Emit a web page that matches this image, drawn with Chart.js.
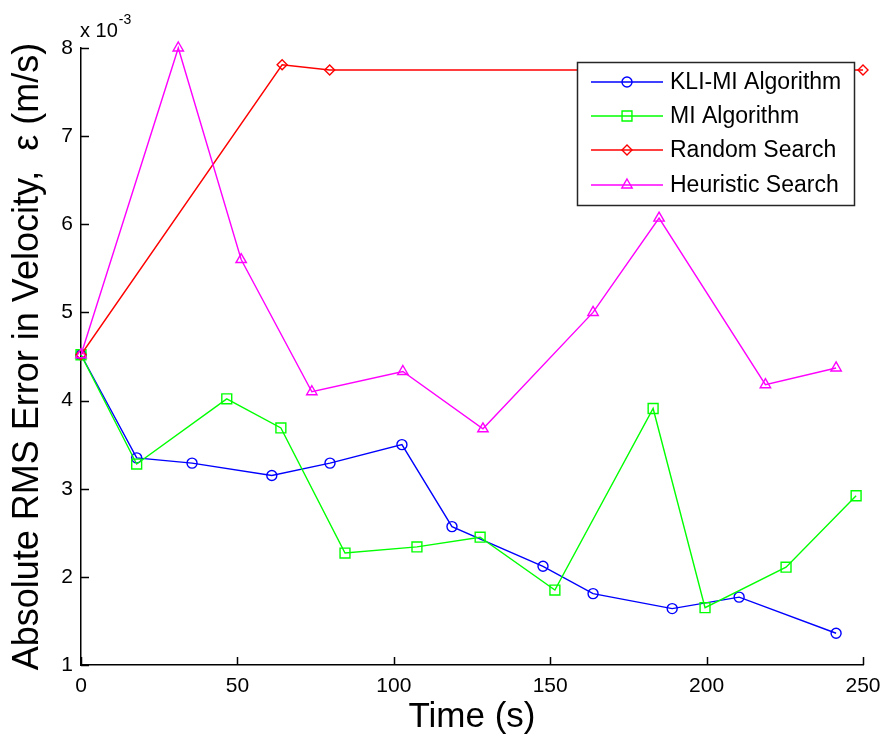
<!DOCTYPE html>
<html>
<head>
<meta charset="utf-8">
<title>Absolute RMS Error in Velocity</title>
<script src="https://cdn.jsdelivr.net/npm/chart.js@4"></script>
<style>
  html, body { margin: 0; padding: 0; background: #fff; }
  #chart { display: block; }
</style>
</head>
<body>
<canvas id="chart" width="884" height="743"></canvas>
<script>
// Erro RMS absoluto da velocidade (valores em unidades de 1e-3 m/s)
const timeKli = [0, 17.8, 35.5, 61, 79.6, 102.6, 118.6, 147.7, 163.7, 189, 210.4, 241.4];
const errKli  = [4.52, 3.35, 3.29, 3.15, 3.29, 3.50, 2.57, 2.12, 1.81, 1.64, 1.77, 1.36];

const timeMi = [0, 17.8, 46.6, 63.9, 84.4, 107.4, 127.6, 151.5, 182.9, 199.5, 225.4, 247.8];
const errMi  = [4.52, 3.28, 4.02, 3.69, 2.27, 2.34, 2.45, 1.85, 3.91, 1.65, 2.11, 2.92];

const timeRandom = [0, 64.3, 79.5, 250];
const errRandom  = [4.52, 7.81, 7.75, 7.75];

const timeHeur = [0, 31.1, 51.2, 73.8, 102.9, 128.5, 163.7, 184.8, 218.8, 241.4];
const errHeur  = [4.52, 8.0, 5.6, 4.10, 4.33, 3.68, 5.0, 6.07, 4.18, 4.37];

const seriesNames = ['KLI-MI Algorithm', 'MI Algorithm', 'Random Search', 'Heuristic Search'];
const xTicks = [0, 50, 100, 150, 200, 250];
const yTicks = [1, 2, 3, 4, 5, 6, 7, 8];

const FONT = 'Arial, "Liberation Sans", sans-serif';

function toPoints(xs, ys) {
    return xs.map((x, i) => ({ x: x, y: ys[i] }));
}

const seriesStyle = [
    { color: '#0000ff', pointStyle: 'circle', radius: 5 },
    { color: '#00ff00', pointStyle: 'rect', radius: 7 },
    { color: '#ff0000', pointStyle: 'rectRot', radius: 5 },
    { color: '#ff00ff', pointStyle: 'triangle', radius: 6 }
];

function makeDataset(i, xs, ys, order) {
    const s = seriesStyle[i];
    return {
        label: seriesNames[i],
        data: toPoints(xs, ys),
        borderColor: s.color,
        borderWidth: 1.4,
        pointStyle: s.pointStyle,
        pointRadius: s.radius,
        pointHoverRadius: s.radius,
        pointBorderColor: s.color,
        pointBackgroundColor: 'rgba(0,0,0,0)',
        pointBorderWidth: 1.4,
        tension: 0,
        fill: false,
        clip: false,
        order: order
    };
}

// eixos com marcas para dentro, legenda em caixa e o fator "x 10^-3"
const matlabAxes = {
    id: 'matlabAxes',
    afterDraw(chart) {
        const ctx = chart.ctx;
        const xs = chart.scales.x;
        const ys = chart.scales.y;
        const area = chart.chartArea;

        ctx.save();
        ctx.strokeStyle = '#000';
        ctx.lineWidth = 1.5;
        ctx.beginPath();
        xTicks.forEach(v => {
            const px = Math.round(xs.getPixelForValue(v)) + 0.5;
            ctx.moveTo(px, area.bottom);
            ctx.lineTo(px, area.bottom - 8);
        });
        yTicks.forEach(v => {
            const py = Math.round(ys.getPixelForValue(v)) + 0.5;
            ctx.moveTo(area.left, py);
            ctx.lineTo(area.left + 8, py);
        });
        ctx.stroke();

        // fator de escala
        ctx.fillStyle = '#000';
        ctx.textAlign = 'left';
        ctx.textBaseline = 'alphabetic';
        ctx.font = '20px ' + FONT;
        ctx.fillText('x 10', area.left - 1, 37);
        const w = ctx.measureText('x 10').width;
        ctx.font = '14px ' + FONT;
        ctx.fillText('-3', area.left - 1 + w + 1, 24);

        // legenda
        const box = { left: 577.5, top: 62.5, right: 854.5, bottom: 205.5 };
        ctx.fillStyle = '#fff';
        ctx.fillRect(box.left, box.top, box.right - box.left, box.bottom - box.top);
        ctx.strokeStyle = '#262626';
        ctx.lineWidth = 1.5;
        ctx.strokeRect(box.left, box.top, box.right - box.left, box.bottom - box.top);

        const rows = [82, 116, 150, 185];
        ctx.font = '23px ' + FONT;
        ctx.textBaseline = 'middle';
        seriesNames.forEach((name, i) => {
            const s = seriesStyle[i];
            const y = rows[i];
            ctx.strokeStyle = s.color;
            ctx.lineWidth = 1.4;
            ctx.beginPath();
            ctx.moveTo(591, y);
            ctx.lineTo(663, y);
            ctx.stroke();
            ctx.fillStyle = 'rgba(0,0,0,0)';
            Chart.helpers.drawPoint(ctx, {
                pointStyle: s.pointStyle,
                radius: s.radius,
                rotation: 0,
                borderWidth: 1.4
            }, 627, y);
            ctx.fillStyle = '#000';
            ctx.fillText(name, 670, y + 1);
        });
        ctx.restore();
    }
};

new Chart(document.getElementById('chart'), {
    type: 'line',
    data: {
        datasets: [
            makeDataset(0, timeKli, errKli, 4),
            makeDataset(1, timeMi, errMi, 3),
            makeDataset(2, timeRandom, errRandom, 2),
            makeDataset(3, timeHeur, errHeur, 1)
        ]
    },
    options: {
        responsive: false,
        devicePixelRatio: 1,
        animation: false,
        layout: { padding: { top: 48, right: 21, left: 0, bottom: 0 } },
        plugins: {
            legend: { display: false },
            tooltip: { enabled: false }
        },
        scales: {
            x: {
                type: 'linear',
                min: 0,
                max: 250,
                afterBuildTicks: s => { s.ticks = xTicks.map(v => ({ value: v })); },
                afterFit: s => { s.height = 78; s.paddingLeft = 0; s.paddingRight = 0; },
                grid: { display: false, drawTicks: false },
                border: { display: true, color: '#000', width: 1.5 },
                ticks: { color: '#000', font: { family: FONT, size: 21 }, padding: 9, maxRotation: 0 },
                title: {
                    display: true,
                    text: 'Time (s)',
                    color: '#000',
                    font: { family: FONT, size: 35, lineHeight: 1 },
                    padding: { top: 0, bottom: 8 }
                }
            },
            y: {
                type: 'linear',
                min: 1,
                max: 8,
                afterBuildTicks: s => { s.ticks = yTicks.map(v => ({ value: v })); },
                afterFit: s => { s.width = 81; s.paddingTop = 0; s.paddingBottom = 0; },
                grid: { display: false, drawTicks: false },
                border: { display: true, color: '#000', width: 1.5 },
                ticks: { color: '#000', font: { family: FONT, size: 21 }, padding: 8 },
                title: {
                    display: true,
                    text: 'Absolute RMS Error in Velocity,  \u03b5 (m/s)',
                    color: '#000',
                    font: { family: FONT, size: 36, lineHeight: 1 },
                    padding: { top: 10, bottom: 0 }
                }
            }
        }
    },
    plugins: [matlabAxes]
});
</script>
</body>
</html>
